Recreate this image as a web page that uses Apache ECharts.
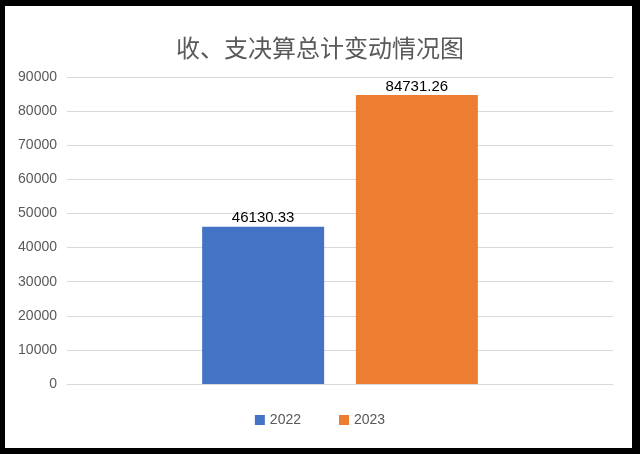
<!DOCTYPE html>
<html>
<head>
<meta charset="utf-8">
<script src="https://cdn.jsdelivr.net/npm/echarts@6/dist/echarts.min.js"></script>
<style>
html,body{margin:0;padding:0;background:#000;width:640px;height:454px;overflow:hidden;}
#bg{position:absolute;left:5px;top:6px;width:627px;height:442px;background:#fff;}
#chart{position:absolute;left:0;top:0;width:640px;height:454px;}
</style>
</head>
<body>
<div id="bg"></div>
<div id="chart"></div>
<script>
const titleText = '收、支决算总计变动情况图';
const categories = [''];
const seriesNames = ['2022', '2023'];
const values2022 = [46130.33];
const values2023 = [84731.26];
const yMin = 0, yMax = 90000, yInterval = 10000;

const chart = echarts.init(document.getElementById('chart'), null, {renderer: 'canvas'});
const labelStyle = {
  show: true, position: 'top', distance: 1, color: '#000',
  fontSize: 15, fontFamily: 'Liberation Sans', formatter: '{c}'
};
chart.setOption({
  animation: false,
  backgroundColor: 'transparent',
  title: {
    text: titleText, left: 'center', top: 31,
    textStyle: {fontSize: 24, fontWeight: 'normal', color: '#595959', fontFamily: 'Noto Sans CJK SC'}
  },
  legend: {
    data: seriesNames, left: 'center', top: 408,
    itemWidth: 10, itemHeight: 10, itemGap: 38, icon: 'rect',
    textStyle: {fontSize: 14, color: '#595959', fontFamily: 'Liberation Sans'}
  },
  grid: {left: 67, right: 27, top: 77, bottom: 70},
  xAxis: {
    type: 'category', data: categories,
    axisLine: {lineStyle: {color: '#D9D9D9'}},
    axisTick: {show: false}, axisLabel: {show: false}
  },
  yAxis: {
    type: 'value', min: yMin, max: yMax, interval: yInterval,
    axisLine: {show: false}, axisTick: {show: false},
    axisLabel: {fontSize: 14, color: '#595959', margin: 10, fontFamily: 'Liberation Sans',
      formatter: function (v) { return String(v); }},
    splitLine: {lineStyle: {color: '#D9D9D9'}}
  },
  series: [
    {name: seriesNames[0], type: 'bar', data: values2022, barWidth: 122, barGap: '26%',
     itemStyle: {color: '#4472C4'}, label: labelStyle},
    {name: seriesNames[1], type: 'bar', data: values2023, barWidth: 122, barGap: '26%',
     itemStyle: {color: '#ED7D31'}, label: labelStyle}
  ]
});
</script>
</body>
</html>
